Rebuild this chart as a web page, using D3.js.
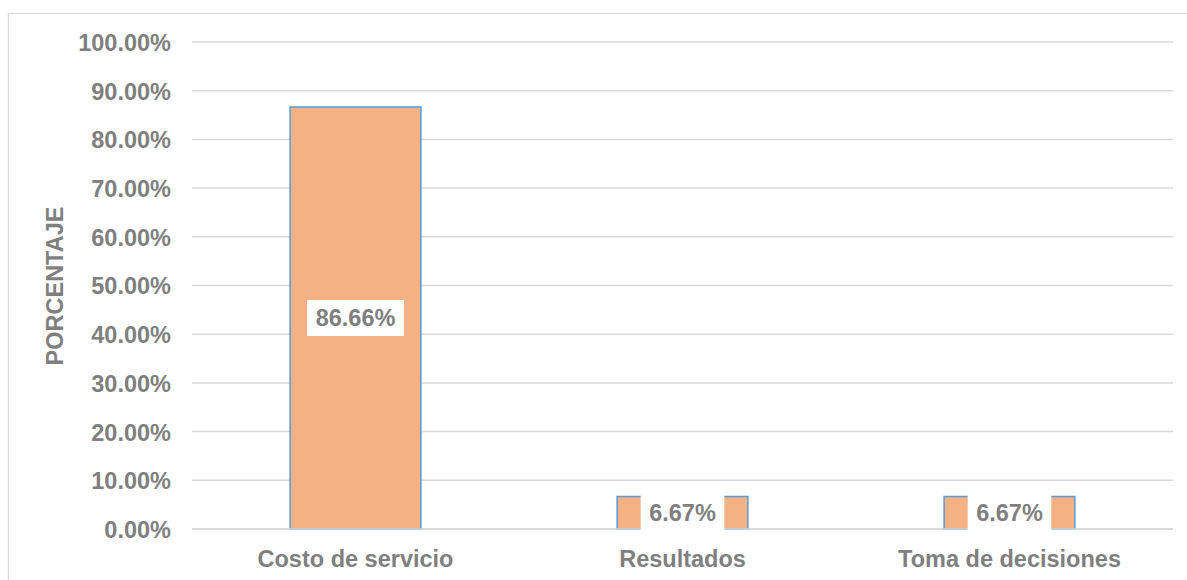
<!DOCTYPE html>
<html><head><meta charset="utf-8">
<script src="https://cdn.jsdelivr.net/npm/d3@7"></script>
<style>body{margin:0;background:#fff}svg{display:block}</style>
</head><body>
<svg id="c" width="1187" height="580"></svg>
<script>
const categories = ["Costo de servicio", "Resultados", "Toma de decisiones"];
const values = [0.8666, 0.0667, 0.0667];
const valueLabels = ["86.66%", "6.67%", "6.67%"];
const yTicks = [0, 0.1, 0.2, 0.3, 0.4, 0.5, 0.6, 0.7, 0.8, 0.9, 1.0];
const yTitle = "PORCENTAJE";

const svg = d3.select("#c");
const font = "'Liberation Sans', Arial, sans-serif";
const txt = "#7f7f7f";
const fs = 23.5;

// outer chart border
svg.append("rect").attr("x", 8.5).attr("y", 13.5).attr("width", 1200).attr("height", 600)
  .attr("fill", "none").attr("stroke", "#d9d9d9").attr("stroke-width", 1.3);

const x = d3.scaleBand().domain(categories).range([192, 1173]).paddingInner(0.6).paddingOuter(0.3);
const y = d3.scaleLinear().domain([0, 1]).range([529, 42]);

// gridlines
svg.append("g").selectAll("line").data(yTicks).join("line")
  .attr("x1", 192).attr("x2", 1173)
  .attr("y1", d => y(d)).attr("y2", d => y(d))
  .attr("stroke", "#d9d9d9").attr("stroke-width", 1.5);

// y axis labels
const yAxis = d3.axisLeft(y).tickValues(yTicks).tickFormat(d3.format(".2%")).tickSize(0).tickPadding(0);
const gy = svg.append("g").attr("transform", "translate(171,0)").call(yAxis);
gy.select(".domain").remove();
gy.selectAll("text").attr("font-family", font).attr("font-size", fs).attr("font-weight", "bold")
  .attr("fill", txt).attr("dy", "0.36em");

// bars
svg.append("g").selectAll("rect").data(values).join("rect")
  .attr("x", (d, i) => x(categories[i]))
  .attr("y", d => y(d))
  .attr("width", x.bandwidth())
  .attr("height", d => y(0) - y(d))
  .attr("fill", "#f4b183").attr("stroke", "#5b9bd5").attr("stroke-width", 1.5);

// baseline redraw
svg.append("line").attr("x1", 192).attr("x2", 1173).attr("y1", y(0)).attr("y2", y(0))
  .attr("stroke", "#d9d9d9").attr("stroke-width", 1.5);

// value labels with white boxes
const lg = svg.append("g");
values.forEach((v, i) => {
  const cx = x(categories[i]) + x.bandwidth() / 2;
  const cy = (y(v) + y(0)) / 2;
  const t = lg.append("text").attr("x", cx).attr("y", cy).attr("dy", "0.36em")
    .attr("text-anchor", "middle").attr("font-family", font).attr("font-size", fs)
    .attr("font-weight", "bold").attr("fill", txt).text(valueLabels[i]);
  const w = t.node().getComputedTextLength();
  lg.insert("rect", "text").attr("x", cx - w / 2 - 8.5).attr("y", cy - 18)
    .attr("width", w + 17).attr("height", 36).attr("fill", "#fff");
});

// x axis labels
const xAxis = d3.axisBottom(x).tickSize(0).tickPadding(0);
const gx = svg.append("g").attr("transform", "translate(0,567)").call(xAxis);
gx.select(".domain").remove();
gx.selectAll("text").attr("font-family", font).attr("font-size", fs).attr("font-weight", "bold")
  .attr("fill", txt).attr("dy", 0);

// y title
svg.append("text").attr("transform", "translate(63,286) rotate(-90)")
  .attr("text-anchor", "middle").attr("font-family", font).attr("font-size", fs)
  .attr("font-weight", "bold").attr("fill", txt).text(yTitle);
</script>
</body></html>
